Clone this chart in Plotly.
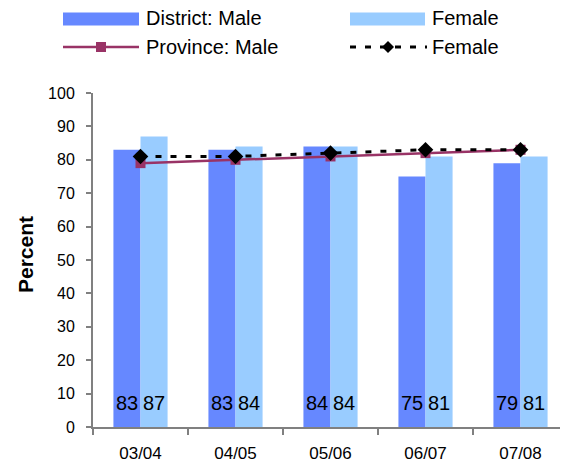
import plotly.graph_objects as go

# data
years = ["03/04", "04/05", "05/06", "06/07", "07/08"]
district_male = [83, 83, 84, 75, 79]
district_female = [87, 84, 84, 81, 81]
province_male = [79, 80, 81, 82, 83]
province_female = [81, 81, 82, 83, 83]

MALE_BAR = "#6688FF"
FEMALE_BAR = "#99CCFF"
PROV_MALE = "#993366"
AXIS = "#808080"
FONT = "Arial, 'Liberation Sans', sans-serif"

# the page body has an 8px margin, so the figure is drawn 8px smaller
OFF = 8
W, H = 568 - OFF, 463 - OFF
# plot area in page pixels (as in the reference)
L, R, T, B = 93, 568, 93, 427


def px(x):
    return (x - L) / (R - L)


def py(y):
    return (B - y) / (B - T)


fig = go.Figure()
fig.add_trace(go.Bar(x=years, y=district_male, name="District: Male",
                     marker=dict(color=MALE_BAR, line=dict(width=0))))
fig.add_trace(go.Bar(x=years, y=district_female, name="Female",
                     marker=dict(color=FEMALE_BAR, line=dict(width=0))))
fig.add_trace(go.Scatter(x=years, y=province_male, name="Province: Male",
                         mode="lines+markers",
                         line=dict(color=PROV_MALE, width=2.5),
                         marker=dict(symbol="square", size=10, color=PROV_MALE)))
fig.add_trace(go.Scatter(x=years, y=province_female, name="Female",
                         mode="lines+markers",
                         line=dict(color="black", width=3, dash="6px,9px"),
                         marker=dict(symbol="diamond", size=12, color="black")))

# value labels at the base of each bar
annotations = []
for yr, m, f in zip(years, district_male, district_female):
    for val, shift in ((m, -13.7), (f, 13.7)):
        annotations.append(dict(x=yr, y=0, xref="x", yref="y", text=str(val),
                                showarrow=False, xshift=shift, yshift=11,
                                yanchor="bottom",
                                font=dict(family=FONT, size=20, color="black")))

# y-axis title
annotations.append(dict(x=px(25), y=py(255), xref="paper", yref="paper",
                        text="<b>Percent</b>", textangle=-90, showarrow=False,
                        xanchor="center", yanchor="middle",
                        font=dict(family=FONT, size=21, color="black")))

# hand-drawn legend (two rows, two columns)
shapes = []
legend_text = [("District: Male", 144, 18), ("Female", 430, 18),
               ("Province: Male", 144, 47), ("Female", 430, 47)]
for txt, x, y in legend_text:
    annotations.append(dict(x=px(x), y=py(y), xref="paper", yref="paper",
                            text=txt, showarrow=False, xanchor="left",
                            yanchor="middle",
                            font=dict(family=FONT, size=20, color="black")))

shapes.append(dict(type="rect", xref="paper", yref="paper",
                   x0=px(63), x1=px(139), y0=py(25.5), y1=py(12.5),
                   fillcolor=MALE_BAR, line=dict(width=0)))
shapes.append(dict(type="rect", xref="paper", yref="paper",
                   x0=px(350), x1=px(425), y0=py(25.5), y1=py(12.5),
                   fillcolor=FEMALE_BAR, line=dict(width=0)))
shapes.append(dict(type="line", xref="paper", yref="paper",
                   x0=px(63), x1=px(139), y0=py(47), y1=py(47),
                   line=dict(color=PROV_MALE, width=2.5)))
shapes.append(dict(type="rect", xref="paper", yref="paper",
                   xsizemode="pixel", ysizemode="pixel",
                   xanchor=px(101), yanchor=py(47),
                   x0=-5, x1=5, y0=-5, y1=5,
                   fillcolor=PROV_MALE, line=dict(width=0)))
shapes.append(dict(type="line", xref="paper", yref="paper",
                   x0=px(350), x1=px(427), y0=py(47), y1=py(47),
                   line=dict(color="black", width=3, dash="6px,9px")))
shapes.append(dict(type="path", xref="paper", yref="paper",
                   xsizemode="pixel", ysizemode="pixel",
                   xanchor=px(388), yanchor=py(47),
                   path="M0,-6L6,0L0,6L-6,0Z",
                   fillcolor="black", line=dict(width=0)))

fig.update_layout(
    width=W, height=H,
    margin=dict(l=L - OFF, r=568 - R, t=T - OFF, b=463 - B, pad=0),
    paper_bgcolor="white", plot_bgcolor="white",
    barmode="group", bargap=0.43, bargroupgap=0,
    showlegend=False,
    font=dict(family=FONT, color="black"),
    annotations=annotations,
    shapes=shapes,
    xaxis=dict(type="category", range=[-0.5, 4.5], tickson="boundaries",
               ticks="outside", ticklen=6, tickcolor=AXIS, tickwidth=1.5,
               showline=True, linecolor=AXIS, linewidth=2,
               showgrid=False, zeroline=False,
               tickfont=dict(size=17), ticklabelstandoff=10),
    yaxis=dict(range=[0, 100], dtick=10, ticks="outside", ticklen=5,
               tickcolor=AXIS, tickwidth=1.5,
               showline=True, linecolor=AXIS, linewidth=2,
               showgrid=False, zeroline=False,
               tickfont=dict(size=16), ticklabelstandoff=8),
    # overlay axes that only add the inner half of the crossing tick marks
    xaxis2=dict(overlaying="x", anchor="y", range=[-0.5, 4.5], tick0=-0.5,
                dtick=1, ticks="inside", ticklen=5, tickcolor=AXIS,
                tickwidth=1.5, showticklabels=False, showgrid=False,
                zeroline=False, side="bottom"),
    yaxis2=dict(overlaying="y", anchor="x", range=[0, 100], dtick=10,
                ticks="inside", ticklen=5, tickcolor=AXIS, tickwidth=1.5,
                showticklabels=False, showgrid=False, zeroline=False,
                side="left"),
)

fig.write_html("out.html")
